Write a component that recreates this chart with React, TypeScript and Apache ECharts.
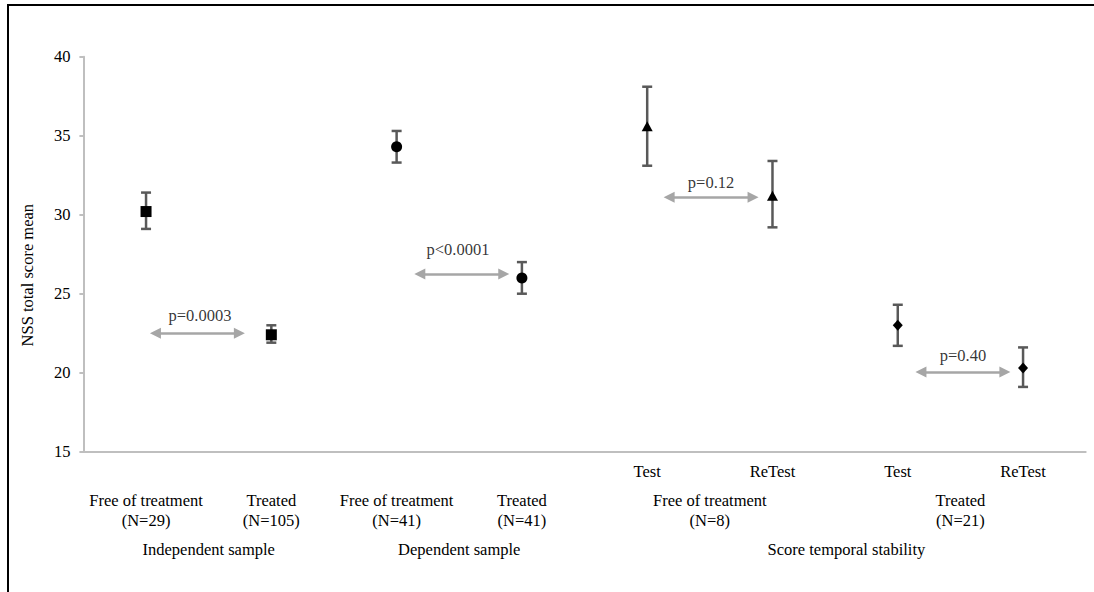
import React, { useEffect, useRef } from 'react';
import * as echarts from 'echarts';

// ---- data ----
const pointPos = [0, 1, 2, 3, 4, 5, 6, 7];
const means = [30.2, 22.4, 34.3, 26.0, 35.6, 31.2, 23.0, 20.3];
const errLow = [29.1, 21.9, 33.3, 25.0, 33.1, 29.2, 21.7, 19.1];
const errHigh = [31.4, 23.0, 35.3, 27.0, 38.1, 33.4, 24.3, 21.6];
const markers = ['rect', 'rect', 'circle', 'circle', 'triangle', 'triangle', 'diamond', 'diamond'];
const markerSizes: any[] = [11, 11, 11, 11, [11, 10], [11, 10], [10, 11], [10, 11]];

const testLabels = ['Test', 'ReTest', 'Test', 'ReTest'];
const testPos = [4, 5, 6, 7];
const subgroupLabels = [
  'Free of treatment\n(N=29)',
  'Treated\n(N=105)',
  'Free of treatment\n(N=41)',
  'Treated\n(N=41)',
  'Free of treatment\n(N=8)',
  'Treated\n(N=21)',
];
const subgroupPos = [0, 1, 2, 3, 4.5, 6.5];
const groupLabels = ['Independent sample', 'Dependent sample', 'Score temporal stability'];
const groupPos = [0.5, 2.5, 5.59];

const yTicks = [15, 20, 25, 30, 35, 40];

const pLabels = ['p=0.0003', 'p<0.0001', 'p=0.12', 'p=0.40'];
const arrowFrom = [0.075, 2.185, 4.175, 6.185];
const arrowTo = [0.745, 2.855, 4.845, 6.855];
const arrowY = [22.5, 26.25, 31.1, 20.05];
const pLabelX = [0.43, 2.49, 4.51, 6.52];
const pLabelY = [23.65, 27.8, 32.06, 21.1];

const FONT = 'Liberation Serif';
const FS = 16.5;

const pick = (pos: number[], labels: string[]) => (v: number) => {
  const i = pos.findIndex((p) => Math.abs(p - v) < 1e-6);
  return i >= 0 ? labels[i] : '';
};

export default function App() {
  const ref = useRef<HTMLDivElement>(null);
  useEffect(() => {
    document.body.style.margin = '0';
    const chart = echarts.init(ref.current!, null, { renderer: 'svg' });
    const baseX = {
      type: 'value',
      min: -0.5,
      max: 7.5,
      position: 'bottom',
      splitLine: { show: false },
      axisTick: { show: false },
    };
    const labelStyle = { color: '#000', fontFamily: FONT, fontSize: FS, lineHeight: 20 };
    chart.setOption({
      animation: false,
      grid: { left: 83.4, right: 8.3, top: 56.7, bottom: 140.3, containLabel: false },
      xAxis: [
        {
          ...baseX,
          axisLine: { show: true, onZero: false, lineStyle: { color: '#BFBFBF', width: 2 } },
          axisLabel: {
            ...labelStyle,
            margin: 10,
            customValues: testPos,
            formatter: pick(testPos, testLabels),
          },
        },
        {
          ...baseX,
          axisLine: { show: false, onZero: false },
          axisLabel: {
            ...labelStyle,
            margin: 39,
            customValues: subgroupPos,
            formatter: pick(subgroupPos, subgroupLabels),
          },
        },
        {
          ...baseX,
          axisLine: { show: false, onZero: false },
          axisLabel: {
            ...labelStyle,
            margin: 88,
            customValues: groupPos,
            formatter: pick(groupPos, groupLabels),
          },
        },
      ],
      yAxis: {
        type: 'value',
        min: yTicks[0],
        max: yTicks[yTicks.length - 1],
        interval: 5,
        name: 'NSS total score mean',
        nameLocation: 'middle',
        nameGap: 47,
        nameTextStyle: { color: '#000', fontFamily: FONT, fontSize: FS, padding: [0, 42, 0, 0] },
        axisLine: { show: true, onZero: false, lineStyle: { color: '#BFBFBF', width: 2 } },
        axisTick: { show: true, length: 4, lineStyle: { color: '#BFBFBF', width: 2 } },
        splitLine: { show: false },
        axisLabel: { color: '#000', fontFamily: FONT, fontSize: FS, margin: 13 },
      },
      graphic: [
        {
          type: 'rect',
          shape: { x: 8, y: 5, width: 1200, height: 700 },
          style: { fill: 'none', stroke: '#000', lineWidth: 2 },
          silent: true,
        },
      ],
      series: [
        {
          type: 'custom',
          xAxisIndex: 0,
          silent: true,
          z: 2,
          data: pointPos.map((x, i) => [x, errLow[i], errHigh[i]]),
          encode: { x: 0, y: [1, 2] },
          renderItem: (params: any, api: any) => {
            const x = api.value(0);
            const lo = api.coord([x, api.value(1)]);
            const hi = api.coord([x, api.value(2)]);
            const hw = 5;
            const style = { stroke: '#595959', lineWidth: 2.5 };
            return {
              type: 'group',
              children: [
                { type: 'line', shape: { x1: lo[0], y1: lo[1], x2: hi[0], y2: hi[1] }, style },
                { type: 'line', shape: { x1: lo[0] - hw, y1: lo[1], x2: lo[0] + hw, y2: lo[1] }, style },
                { type: 'line', shape: { x1: hi[0] - hw, y1: hi[1], x2: hi[0] + hw, y2: hi[1] }, style },
              ],
            };
          },
        },
        {
          type: 'scatter',
          xAxisIndex: 0,
          silent: true,
          z: 3,
          itemStyle: { color: '#000', opacity: 1 },
          data: pointPos.map((x, i) => ({
            value: [x, means[i]],
            symbol: markers[i],
            symbolSize: markerSizes[i],
          })),
        },
        {
          type: 'lines',
          coordinateSystem: 'cartesian2d',
          xAxisIndex: 0,
          silent: true,
          z: 2,
          symbol: ['triangle', 'triangle'],
          symbolSize: 11,
          lineStyle: { color: '#A6A6A6', width: 2.5, opacity: 1 },
          itemStyle: { color: '#A6A6A6' },
          data: arrowY.map((y, i) => ({
            coords: [
              [arrowFrom[i], y],
              [arrowTo[i], y],
            ],
          })),
        },
        {
          type: 'scatter',
          xAxisIndex: 0,
          silent: true,
          z: 4,
          symbol: 'circle',
          symbolSize: 1,
          itemStyle: { color: 'rgba(0,0,0,0)' },
          label: {
            show: true,
            position: 'inside',
            color: '#000',
            fontFamily: FONT,
            fontSize: FS,
            formatter: (p: any) => pLabels[p.dataIndex],
          },
          data: pLabelX.map((x, i) => [x, pLabelY[i]]),
        },
      ],
    });
    return () => chart.dispose();
  }, []);
  return <div ref={ref} style={{ width: 1094, height: 592 }} />;
}
